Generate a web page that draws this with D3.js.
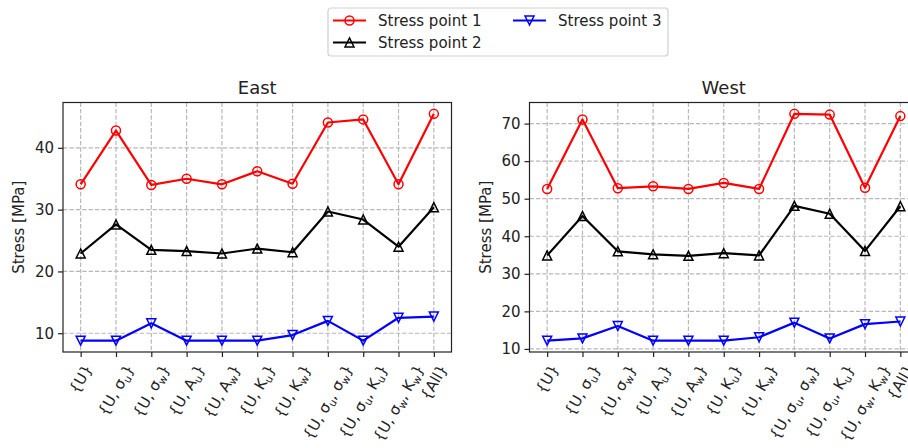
<!DOCTYPE html>
<html>
<head>
<meta charset="utf-8">
<script src="https://cdn.jsdelivr.net/npm/d3@7"></script>
<style>
  body { margin: 0; background: #fff; }
  text { font-family: "DejaVu Sans", sans-serif; fill: #222; }
</style>
</head>
<body>
<svg id="chart" width="908" height="448"></svg>
<script>
// categories (underscore = subscript)
const categories = ["{U}", "{U, σ_u}", "{U, σ_w}", "{U, A_u}", "{U, A_w}", "{U, K_u}", "{U, K_w}",
  "{U, σ_u, σ_w}", "{U, σ_u, K_u}", "{U, σ_w, K_w}", "{All}"];
const seriesNames = ["Stress point 1", "Stress point 2", "Stress point 3"];

const eastSP1 = [34.1, 42.8, 34.0, 35.0, 34.1, 36.2, 34.2, 44.1, 44.6, 34.1, 45.5];
const eastSP2 = [22.9, 27.6, 23.5, 23.3, 22.9, 23.7, 23.1, 29.7, 28.4, 24.0, 30.4];
const eastSP3 = [8.8, 8.8, 11.6, 8.8, 8.8, 8.8, 9.7, 12.0, 8.8, 12.5, 12.7];

const westSP1 = [52.6, 71.1, 52.8, 53.3, 52.6, 54.2, 52.6, 72.6, 72.4, 52.9, 72.0];
const westSP2 = [34.9, 45.4, 36.0, 35.2, 34.8, 35.5, 34.9, 48.1, 46.0, 36.1, 48.0];
const westSP3 = [12.2, 12.8, 16.1, 12.2, 12.2, 12.2, 13.1, 17.0, 12.8, 16.6, 17.3];

const eastTicks = [10, 20, 30, 40];
const westTicks = [10, 20, 30, 40, 50, 60, 70];

const colors = ["#ff0000", "#000000", "#0000ff"];
const markers = ["circle", "up", "down"];

const svg = d3.select("#chart");
const plotTop = 102.5, plotBottom = 352;
const panelW = 388.5;

const panels = [
  {title: "East", x0: 63, series: [eastSP1, eastSP2, eastSP3], ticks: eastTicks},
  {title: "West", x0: 529.5, series: [westSP1, westSP2, westSP3], ticks: westTicks}
];

function drawMarker(g, type, cx, cy, color) {
  const r = 4.5;
  if (type === "circle") {
    g.append("circle").attr("cx", cx).attr("cy", cy).attr("r", r)
      .attr("fill", "none").attr("stroke", color).attr("stroke-width", 1.5);
  } else {
    const s = type === "up" ? 1 : -1;
    const pts = [[cx, cy - s * r], [cx - r, cy + s * r], [cx + r, cy + s * r]];
    g.append("path").attr("d", "M" + pts.join("L") + "Z")
      .attr("fill", "none").attr("stroke", color).attr("stroke-width", 1.5);
  }
}

function addLabel(sel, label) {
  // split on subscripts like σ_u
  const parts = label.split(/_(\w)/);
  parts.forEach((p, i) => {
    if (!p) return;
    if (i % 2 === 1) {
      sel.append("tspan").attr("font-size", "10.5px").attr("baseline-shift", "-25%").text(p);
    } else {
      sel.append("tspan").text(p);
    }
  });
}

panels.forEach(p => {
  const x1 = p.x0 + panelW;
  const x = d3.scaleLinear().domain([-0.5, categories.length - 0.5]).range([p.x0, x1]);
  const all = p.series.flat();
  const lo = d3.min(all), hi = d3.max(all), pad = (hi - lo) * 0.05;
  const y = d3.scaleLinear().domain([lo - pad, hi + pad]).range([plotBottom, plotTop]);

  const g = svg.append("g");

  // grid
  g.selectAll(".gx").data(d3.range(categories.length)).enter().append("line")
    .attr("x1", d => x(d)).attr("x2", d => x(d)).attr("y1", plotTop).attr("y2", plotBottom)
    .attr("stroke", "#b8b8b8").attr("stroke-width", 1.2).attr("stroke-dasharray", "4.4,2");
  g.selectAll(".gy").data(p.ticks).enter().append("line")
    .attr("x1", p.x0).attr("x2", x1).attr("y1", d => y(d)).attr("y2", d => y(d))
    .attr("stroke", "#b8b8b8").attr("stroke-width", 1.2).attr("stroke-dasharray", "4.4,2");

  // series
  p.series.forEach((vals, si) => {
    const line = d3.line().x((d, i) => x(i)).y(d => y(d));
    g.append("path").datum(vals).attr("d", line)
      .attr("fill", "none").attr("stroke", colors[si]).attr("stroke-width", 2.2)
      .attr("stroke-linejoin", "round");
    vals.forEach((v, i) => drawMarker(g, markers[si], x(i), y(v), colors[si]));
  });

  // frame
  g.append("rect").attr("x", p.x0).attr("y", plotTop).attr("width", panelW).attr("height", plotBottom - plotTop)
    .attr("fill", "none").attr("stroke", "#222").attr("stroke-width", 1.2);

  // y axis
  const ya = g.append("g").attr("transform", `translate(${p.x0},0)`)
    .call(d3.axisLeft(y).tickValues(p.ticks).tickSize(5).tickPadding(4));
  ya.select(".domain").remove();
  ya.selectAll("line").attr("stroke", "#222").attr("stroke-width", 1.2);
  ya.selectAll("text").attr("font-size", "15px").attr("font-family", "DejaVu Sans").attr("fill", "#222");

  // x axis ticks
  const xa = g.append("g").attr("transform", `translate(0,${plotBottom})`)
    .call(d3.axisBottom(x).tickValues(d3.range(categories.length)).tickSize(5).tickFormat(""));
  xa.select(".domain").remove();
  xa.selectAll("line").attr("stroke", "#222").attr("stroke-width", 1.2);

  // rotated x labels, bbox centered on tick
  categories.forEach((c, i) => {
    const t = g.append("text").attr("font-size", "15px").attr("text-anchor", "middle");
    addLabel(t, c);
    const w = t.node().getComputedTextLength();
    const h = 15;
    const a = Math.PI / 3;
    const H = w * Math.sin(a) + h * Math.cos(a);
    const cy = plotBottom + 10 + H / 2;
    t.attr("transform", `translate(${x(i)},${cy}) rotate(-60)`).attr("dy", "0.35em");
  });

  // title
  g.append("text").attr("x", (p.x0 + x1) / 2).attr("y", 93.5).attr("text-anchor", "middle")
    .attr("font-size", "18px").text(p.title);

  // y label
  g.append("text").attr("transform", `translate(${p.x0 - 39},${(plotTop + plotBottom) / 2}) rotate(-90)`)
    .attr("text-anchor", "middle").attr("font-size", "15px").text("Stress [MPa]");
});

// legend
const leg = svg.append("g");
leg.append("rect").attr("x", 328).attr("y", 8).attr("width", 340).attr("height", 48).attr("rx", 3)
  .attr("fill", "#fff").attr("stroke", "#d0d0d0").attr("stroke-width", 1.2);
const legPos = [[333, 20.5], [333, 42.5], [513, 20.5]];
seriesNames.forEach((n, i) => {
  const [lx, ly] = legPos[i];
  leg.append("line").attr("x1", lx).attr("x2", lx + 33).attr("y1", ly).attr("y2", ly)
    .attr("stroke", colors[i]).attr("stroke-width", 2.2);
  drawMarker(leg, markers[i], lx + 16.5, ly, colors[i]);
  leg.append("text").attr("x", lx + 45).attr("y", ly).attr("dy", "0.35em")
    .attr("font-size", "15px").text(n);
});
</script>
</body>
</html>
